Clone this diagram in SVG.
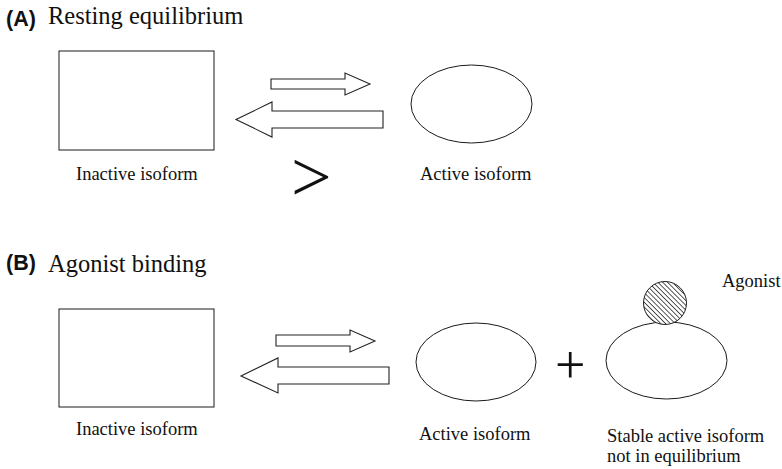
<svg xmlns="http://www.w3.org/2000/svg" width="782" height="469" viewBox="0 0 782 469">
<style>
  .bg { fill: #ffffff; }
  .shape { fill: #ffffff; stroke: #1a1a1a; stroke-width: 1; }
  .arrow { fill: #ffffff; stroke: #222222; stroke-width: 1.1; stroke-linejoin: miter; }
  .lbl { font-family: "Liberation Serif", "Times New Roman", serif; font-size: 18.5px; fill: #111111; }
  .title { font-family: "Liberation Serif", "Times New Roman", serif; font-size: 24.5px; fill: #111111; }
  .tag { font-family: "Liberation Sans", Arial, sans-serif; font-weight: bold; font-size: 21.5px; fill: #111111; }
  .sym { font-family: "Liberation Serif", "Times New Roman", serif; fill: #111111; }
</style>
<defs>
  <pattern id="hatch" patternUnits="userSpaceOnUse" width="3.4" height="3.4" patternTransform="rotate(-45)">
    <rect width="3.4" height="3.4" fill="#ffffff"/>
    <line x1="0" y1="0" x2="0" y2="3.4" stroke="#222222" stroke-width="1.5"/>
  </pattern>
</defs>
<rect class="bg" x="0" y="0" width="782" height="469"/>

<g id="panel-a-title">
  <text class="tag" x="6" y="26">(A)</text>
  <text class="title" x="48" y="24">Resting equilibrium</text>
</g>
<g id="a-inactive">
  <rect class="shape" x="59" y="51" width="155" height="99"/>
  <text class="lbl" x="76" y="180">Inactive isoform</text>
</g>
<g id="a-active">
  <ellipse class="shape" cx="471.5" cy="104" rx="60.5" ry="39"/>
  <text class="lbl" x="420" y="180">Active isoform</text>
</g>
<g id="a-greater">
  <text class="sym" x="291" y="201" font-size="72">&gt;</text>
</g>

<g id="panel-b-title">
  <text class="tag" x="6" y="270">(B)</text>
  <text class="title" x="48" y="272">Agonist binding</text>
</g>
<g id="b-inactive">
  <rect class="shape" x="59" y="309" width="155" height="98"/>
  <text class="lbl" x="76" y="435">Inactive isoform</text>
</g>
<g id="b-active">
  <ellipse class="shape" cx="476" cy="362" rx="60" ry="39"/>
  <text class="lbl" x="419" y="440">Active isoform</text>
</g>
<g id="b-plus">
  <text class="sym" x="555" y="383" font-size="54">+</text>
</g>
<g id="b-stable">
  <ellipse class="shape" cx="666.5" cy="360.5" rx="60.5" ry="38.5"/>
  <text class="lbl" x="607" y="442">Stable active isoform</text>
  <text class="lbl" x="607" y="462">not in equilibrium</text>
</g>
<g id="b-agonist">
  <circle cx="665" cy="303" r="21.5" fill="url(#hatch)" stroke="#222222" stroke-width="1"/>
  <text class="lbl" x="722" y="287">Agonist</text>
</g>

<g id="connectors">
  <polygon class="arrow" points="271,79 345,79 345,73 370,84 345,95 345,89 271,89"/>
  <polygon class="arrow" points="383,111 272,111 272,102 236,119.5 272,137 272,128 383,128"/>
  <polygon class="arrow" points="276,335 350,335 350,330 375,341 350,352 350,346 276,346"/>
  <polygon class="arrow" points="389,367 278,367 278,358 241,376 278,393 278,384 389,384"/>
</g>
</svg>
